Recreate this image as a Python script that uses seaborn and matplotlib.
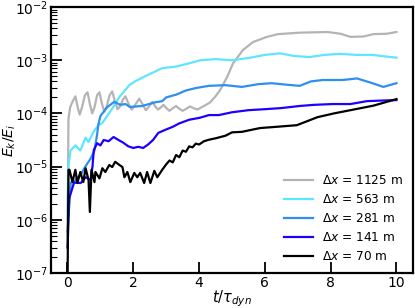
import numpy as np
import pandas as pd
import matplotlib
matplotlib.use("Agg")
import matplotlib.pyplot as plt
import seaborn as sns
from matplotlib.ticker import LogLocator, NullFormatter

# ---------------- data ----------------
labels = [r"$\Delta x$ = 1125 m", r"$\Delta x$ = 563 m", r"$\Delta x$ = 281 m",
          r"$\Delta x$ = 141 m", r"$\Delta x$ = 70 m"]
colors = ["#b4b4b4", "#5ee6ff", "#2f8ff0", "#1e00ff", "#000000"]

t_1125 = [0.0, 0.03, 0.08, 0.14, 0.24, 0.31, 0.37, 0.44, 0.53, 0.61, 0.68, 0.75, 0.82,
          0.9, 0.97, 1.05, 1.12, 1.19, 1.28, 1.36, 1.44, 1.52, 1.6, 1.68, 1.76, 1.86,
          1.95, 2.06, 2.18, 2.28, 2.38, 2.48, 2.58, 2.67, 2.75, 2.84, 2.92, 3.01, 3.1,
          3.2, 3.3, 3.4, 3.5, 3.61, 3.72, 3.84, 3.95, 4.05, 4.15, 4.33, 4.5, 4.64,
          4.85, 5.03, 5.33, 5.64, 6.06, 6.4, 7.06, 7.9, 8.3, 8.6, 9.0, 9.3, 9.7, 10.0]
e_1125 = [5e-7, 8e-5, 1.3e-4, 1.6e-4, 2.1e-4, 1.3e-4, 9.5e-5, 1.3e-4, 2.2e-4, 2.5e-4,
          1.5e-4, 1.0e-4, 1.3e-4, 2.2e-4, 2.5e-4, 1.5e-4, 1.07e-4, 1.35e-4, 2.2e-4,
          2.6e-4, 1.7e-4, 1.2e-4, 1.35e-4, 1.8e-4, 2.1e-4, 1.5e-4, 1.18e-4, 1.45e-4,
          1.9e-4, 1.5e-4, 1.15e-4, 1.35e-4, 1.65e-4, 1.35e-4, 1.18e-4, 1.3e-4, 1.45e-4,
          1.25e-4, 1.12e-4, 1.25e-4, 1.38e-4, 1.22e-4, 1.12e-4, 1.22e-4, 1.35e-4,
          1.25e-4, 1.18e-4, 1.28e-4, 1.38e-4, 1.6e-4, 2.1e-4, 2.75e-4, 4.8e-4, 8.7e-4,
          1.55e-3, 2.2e-3, 2.75e-3, 3.1e-3, 3.3e-3, 3.4e-3, 3.15e-3, 2.75e-3, 2.8e-3,
          3.1e-3, 3.15e-3, 3.4e-3]

t_563 = [0.0, 0.03, 0.09, 0.24, 0.39, 0.55, 0.64, 0.79, 0.94, 1.06, 1.27, 1.42, 1.58,
         1.88, 2.05, 2.36, 2.88, 3.3, 3.8, 4.03, 4.5, 5.0, 5.5, 6.0, 6.45, 6.9, 7.36,
         7.8, 8.27, 8.8, 9.27, 9.7, 10.0]
e_563 = [1e-6, 1e-5, 2.0e-5, 2.5e-5, 2.0e-5, 3.5e-5, 2.9e-5, 4.5e-5, 6.0e-5, 6.6e-5,
         1.02e-4, 1.4e-4, 2.05e-4, 3.4e-4, 4.0e-4, 5.0e-4, 7.1e-4, 7.6e-4, 9.1e-4,
         1.0e-3, 1.05e-3, 1.0e-3, 1.1e-3, 1.26e-3, 1.35e-3, 1.2e-3, 1.15e-3, 1.26e-3,
         1.32e-3, 1.26e-3, 1.26e-3, 1.17e-3, 1.12e-3]

t_281 = [0.0, 0.1, 0.2, 0.3, 0.4, 0.55, 0.7, 0.82, 0.9, 0.94, 1.0, 1.2, 1.42, 1.6,
         1.76, 1.9, 2.27, 2.67, 2.88, 3.0, 3.3, 3.6, 3.9, 4.3, 4.8, 5.3, 5.8, 6.2,
         6.7, 7.06, 7.4, 7.76, 8.36, 8.8, 9.27, 9.6, 10.0]
e_281 = [6e-7, 5e-6, 5.1e-6, 6.3e-6, 7e-6, 1.02e-5, 1.4e-5, 2.0e-5, 4e-5, 6.3e-5,
         8.9e-5, 1.3e-4, 1.65e-4, 1.45e-4, 1.5e-4, 1.32e-4, 1.38e-4, 1.62e-4, 1.7e-4,
         2.0e-4, 2.25e-4, 2.7e-4, 3.0e-4, 3.3e-4, 3.4e-4, 3.15e-4, 3.55e-4, 3.7e-4,
         3.45e-4, 3.3e-4, 4.0e-4, 4.25e-4, 4.25e-4, 4.55e-4, 3.7e-4, 3.15e-4, 3.7e-4]

t_141 = [0.0, 0.05, 0.2, 0.4, 0.55, 0.7, 0.76, 0.8, 0.9, 1.0, 1.1, 1.25, 1.4, 1.55,
         1.7, 1.85, 2.0, 2.15, 2.3, 2.45, 2.6, 2.76, 2.97, 3.2, 3.4, 3.7, 4.03, 4.3,
         4.6, 5.0, 5.5, 6.0, 6.5, 7.06, 7.5, 8.06, 8.6, 9.1, 9.5, 10.0]
e_141 = [3e-7, 2.5e-6, 5e-6, 4.9e-6, 6.3e-6, 5.6e-6, 1e-5, 2.04e-5, 2.75e-5, 2.5e-5,
         3.16e-5, 3.0e-5, 3.6e-5, 3.16e-5, 2.8e-5, 2.4e-5, 2.24e-5, 2.35e-5, 2.24e-5,
         2.6e-5, 3.16e-5, 4.3e-5, 4.9e-5, 5.6e-5, 6.5e-5, 7.6e-5, 8.3e-5, 9.3e-5,
         9.3e-5, 1.05e-4, 1.15e-4, 1.2e-4, 1.26e-4, 1.38e-4, 1.45e-4, 1.5e-4, 1.5e-4,
         1.7e-4, 1.74e-4, 1.78e-4]

t_70 = [0.0, 0.03, 0.06, 0.15, 0.24, 0.3, 0.39, 0.48, 0.55, 0.64, 0.68, 0.73, 0.82,
        0.85, 0.97, 1.06, 1.15, 1.27, 1.36, 1.45, 1.58, 1.67, 1.73, 1.82, 1.91, 2.03,
        2.12, 2.21, 2.33, 2.42, 2.52, 2.64, 2.73, 2.88, 3.0, 3.1, 3.2, 3.3, 3.4, 3.5,
        3.6, 3.7, 3.8, 3.9, 4.0, 4.15, 4.3, 4.5, 4.8, 5.0, 5.3, 5.85, 6.36, 6.97, 7.3,
        7.6, 8.1, 8.6, 9.3, 10.0]
e_70 = [5e-8, 8.7e-6, 8.7e-6, 5.1e-6, 8.7e-6, 4.9e-6, 7.9e-6, 5.1e-6, 9.3e-6, 5.6e-6,
        1.4e-6, 8.7e-6, 5.1e-6, 7.9e-6, 6e-6, 9.3e-6, 7.9e-6, 1.07e-5, 9.8e-6, 1.23e-5,
        1.07e-5, 9.8e-6, 6.3e-6, 7.9e-6, 5.1e-6, 7.6e-6, 6.3e-6, 7.6e-6, 4.9e-6, 7.9e-6,
        4.9e-6, 8.3e-6, 6.3e-6, 8.7e-6, 1.1e-5, 1.3e-5, 1.2e-5, 1.65e-5, 1.5e-5, 2.0e-5,
        1.9e-5, 2.4e-5, 2.3e-5, 2.7e-5, 2.6e-5, 3.0e-5, 3.2e-5, 3.4e-5, 3.8e-5, 4.4e-5,
        4.5e-5, 5.3e-5, 5.6e-5, 6.0e-5, 7.2e-5, 8.5e-5, 1.0e-4, 1.15e-4, 1.4e-4, 1.86e-4]

x_ticks = [0, 2, 4, 6, 8, 10]

# ---------------- frame ----------------
series = [(t_1125, e_1125), (t_563, e_563), (t_281, e_281), (t_141, e_141), (t_70, e_70)]
frames = []
for lab, (tt, ee) in zip(labels, series):
    frames.append(pd.DataFrame({"t": tt, "E": ee, "label": lab}))
df = pd.concat(frames, ignore_index=True)

plt.rcParams["font.family"] = ["DejaVu Sans"]
plt.rcParams["font.size"] = 10

fig = plt.figure(figsize=(4.15, 3.08), dpi=100)
ax = fig.add_axes([0.123, 0.114, 0.872, 0.863])

sns.lineplot(data=df, x="t", y="E", hue="label", hue_order=labels,
             palette=dict(zip(labels, colors)), estimator=None, sort=False,
             units="label", linewidth=1.6, ax=ax, legend=True)

ax.set_yscale("log")
ax.set_ylim(1e-7, 1e-2)
ax.set_xlim(-0.5, 10.5)
ax.set_xticks(x_ticks)
ax.yaxis.set_major_locator(LogLocator(base=10, numticks=10))
ax.yaxis.set_minor_locator(LogLocator(base=10, subs=np.arange(2, 10), numticks=20))
ax.yaxis.set_minor_formatter(NullFormatter())

for s in ax.spines.values():
    s.set_linewidth(1.6)
ax.tick_params(which="major", direction="in", length=8, width=1.3, top=False,
               right=False, labelsize=10, pad=2)
ax.tick_params(which="minor", direction="in", length=4, width=0.8, top=False,
               right=False)
ax.tick_params(axis="x", which="minor", bottom=False)

ax.set_xlabel(r"$t/\tau_{dyn}$", fontsize=10.5)
ax.set_ylabel(r"$E_k/E_i$", fontsize=10.2)
ax.xaxis.set_label_coords(0.5, -0.06)
ax.yaxis.set_label_coords(-0.092, 0.5)

leg = ax.legend(loc="lower right", frameon=False, fontsize=8.7, handlelength=2.4,
                labelspacing=0.5, borderaxespad=0.4)
leg.set_title(None)

fig.savefig("out.png", dpi=100)
